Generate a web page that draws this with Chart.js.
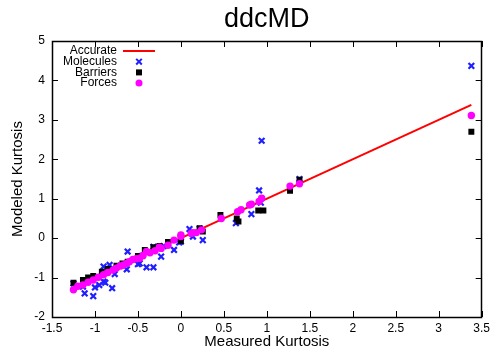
<!DOCTYPE html>
<html>
<head>
<meta charset="utf-8">
<script src="https://cdn.jsdelivr.net/npm/chart.js@4"></script>
<style>
  body { margin: 0; background: #fff; }
  canvas { display: block; }
</style>
</head>
<body>
<canvas id="kurtChart" width="494" height="354"></canvas>
<script>
// Modeled vs measured kurtosis (ddcMD)

const accurate = [[-1.25, -1.25], [3.38, 3.38]];

const molecules = [
    [-1.25, -1.15], [-1.14, -1.23], [-1.12, -1.40], [-1.02, -1.47], [-1.0, -1.25],
    [-0.95, -1.19], [-0.90, -1.10], [-0.88, -1.13], [-0.80, -1.27], [-0.79, -0.79],
    [-0.77, -0.91], [-0.90, -0.72], [-0.83, -0.68], [-0.63, -0.79], [-0.62, -0.34],
    [-0.50, -0.66], [-0.49, -0.54], [-0.48, -0.64], [-0.40, -0.74], [-0.32, -0.74],
    [-0.32, -0.22], [-0.23, -0.47], [-0.08, -0.30], [-0.02, -0.11], [0.0, -0.09],
    [0.10, 0.23], [0.14, 0.04], [0.255, -0.05], [0.64, 0.38], [0.82, 0.61],
    [0.91, 1.21], [0.94, 2.47], [1.38, 1.50], [3.38, 4.37],
    [-1.05, -1.02], [-0.70, -0.70], [-0.45, -0.45], [-0.20, -0.20], [0.22, 0.24], [0.93, 0.90]
];

const barriers = [
    [-1.25, -1.13], [-1.14, -1.06], [-1.08, -1.00], [-1.02, -0.96], [-0.92, -0.85],
    [-0.85, -0.78], [-0.75, -0.70], [-0.68, -0.64], [-0.62, -0.60], [-0.50, -0.45],
    [-0.42, -0.30], [-0.32, -0.23], [-0.25, -0.20], [-0.15, -0.10], [0.0, -0.07],
    [0.217, 0.25], [0.255, 0.17], [0.46, 0.59], [0.65, 0.50], [0.67, 0.42],
    [0.90, 0.70], [0.96, 0.70], [1.27, 1.20], [1.38, 1.48], [3.38, 2.70]
];

const forces = [
    [-1.25, -1.31], [-1.20, -1.22], [-1.14, -1.19], [-1.08, -1.12], [-1.02, -1.06],
    [-0.96, -0.99], [-0.90, -0.93], [-0.85, -0.87], [-0.79, -0.81], [-0.75, -0.76],
    [-0.71, -0.71], [-0.67, -0.68], [-0.63, -0.64], [-0.60, -0.60], [-0.56, -0.54],
    [-0.52, -0.52], [-0.48, -0.51], [-0.44, -0.44], [-0.40, -0.34], [-0.36, -0.37],
    [-0.30, -0.32], [-0.25, -0.23], [-0.23, -0.26], [-0.15, -0.18], [-0.08, -0.05],
    [0.0, 0.04], [0.0, 0.08], [0.12, 0.12], [0.14, 0.14], [0.18, 0.14],
    [0.24, 0.21], [0.47, 0.50], [0.66, 0.67], [0.70, 0.72], [0.80, 0.84],
    [0.82, 0.86], [0.91, 0.93], [0.94, 1.01], [1.27, 1.32], [1.38, 1.38], [3.38, 3.11]
];

const FONT = "'Liberation Sans', Arial, sans-serif";
const toXY = arr => arr.map(p => ({x: p[0], y: p[1]}));

// gnuplot look: frame, inward ticks on all sides, legend top-left, titles
const gnuplotFrame = {
    id: "gnuplotFrame",
    afterDraw(chart) {
        const {ctx, chartArea} = chart;
        const {left, right, top, bottom} = chartArea;
        const xs = chart.scales.x, ys = chart.scales.y;
        const tl = 6;
        ctx.save();
        ctx.strokeStyle = "#000";
        ctx.lineWidth = 1;
        ctx.beginPath();
        xs.ticks.forEach(t => {
            const px = Math.round(xs.getPixelForValue(t.value)) + 0.5;
            ctx.moveTo(px, bottom); ctx.lineTo(px, bottom - tl);
            ctx.moveTo(px, top); ctx.lineTo(px, top + tl);
        });
        ys.ticks.forEach(t => {
            const py = Math.round(ys.getPixelForValue(t.value)) + 0.5;
            ctx.moveTo(left, py); ctx.lineTo(left + tl, py);
            ctx.moveTo(right, py); ctx.lineTo(right - tl, py);
        });
        ctx.stroke();
        ctx.lineWidth = 1.5;
        ctx.strokeRect(Math.round(left) + 0.5, Math.round(top) + 0.5,
            Math.round(right - left) - 1, Math.round(bottom - top));

        // titles
        ctx.fillStyle = "#000";
        ctx.textAlign = "center";
        ctx.textBaseline = "middle";
        ctx.font = "27px " + FONT;
        ctx.fillText("ddcMD", (left + right) / 2, 20);
        ctx.font = "15px " + FONT;
        ctx.fillText("Measured Kurtosis", (left + right) / 2, 342);
        ctx.save();
        ctx.translate(18, (top + bottom) / 2);
        ctx.rotate(-Math.PI / 2);
        ctx.fillText("Modeled Kurtosis", 0, 0);
        ctx.restore();

        // legend
        ctx.font = "12px " + FONT;
        ctx.textAlign = "right";
        const rows = chart.data.datasets;
        rows.forEach((ds, i) => {
            const y = 51 + i * 10.7;
            ctx.fillStyle = "#000";
            ctx.fillText(ds.label, 117, y);
            const mx = 139;
            if (i === 0) {
                ctx.strokeStyle = ds.borderColor;
                ctx.lineWidth = 2;
                ctx.beginPath();
                ctx.moveTo(123, y); ctx.lineTo(155, y);
                ctx.stroke();
            } else if (ds.pointStyle === "crossRot") {
                ctx.strokeStyle = ds.borderColor;
                ctx.lineWidth = 2;
                ctx.beginPath();
                ctx.moveTo(mx - 2.8, y - 2.8); ctx.lineTo(mx + 2.8, y + 2.8);
                ctx.moveTo(mx + 2.8, y - 2.8); ctx.lineTo(mx - 2.8, y + 2.8);
                ctx.stroke();
            } else if (ds.pointStyle === "rect") {
                ctx.fillStyle = ds.backgroundColor;
                ctx.fillRect(mx - 3, y - 3, 6, 6);
            } else {
                ctx.fillStyle = ds.backgroundColor;
                ctx.beginPath();
                ctx.arc(mx, y, 3.5, 0, Math.PI * 2);
                ctx.fill();
            }
        });
        ctx.restore();
    }
};

new Chart("kurtChart", {
    type: "scatter",
    data: {
        datasets: [{
            label: "Accurate",
            type: "line",
            data: toXY(accurate),
            borderColor: "#ff0000",
            borderWidth: 2,
            pointRadius: 0,
            order: 3
        }, {
            label: "Molecules",
            data: toXY(molecules),
            pointStyle: "crossRot",
            pointRadius: 4,
            borderWidth: 2.2,
            borderColor: "#1f1fff",
            backgroundColor: "#1f1fff",
            order: 2
        }, {
            label: "Barriers",
            data: toXY(barriers),
            pointStyle: "rect",
            pointRadius: 4.2,
            borderWidth: 0,
            backgroundColor: "#000000",
            borderColor: "#000000",
            order: 1
        }, {
            label: "Forces",
            data: toXY(forces),
            pointStyle: "circle",
            pointRadius: 3.7,
            borderWidth: 0,
            backgroundColor: "#ff00ff",
            borderColor: "#ff00ff",
            order: 0
        }]
    },
    options: {
        responsive: false,
        animation: false,
        layout: {
            padding: {left: 0, right: 11, top: 41, bottom: 0}
        },
        scales: {
            x: {
                type: "linear",
                min: -1.5,
                max: 3.5,
                grid: {display: false, drawTicks: false},
                border: {display: false},
                afterFit: s => { s.height = 37; },
                ticks: {
                    stepSize: 0.5,
                    padding: 4,
                    color: "#000",
                    font: {family: FONT, size: 12},
                    maxRotation: 0,
                    callback: v => String(Math.round(v * 10) / 10)
                }
            },
            y: {
                min: -2,
                max: 5,
                grid: {display: false, drawTicks: false},
                border: {display: false},
                afterFit: s => { s.width = 52; },
                ticks: {
                    stepSize: 1,
                    padding: 7,
                    color: "#000",
                    font: {family: FONT, size: 12},
                    callback: v => String(v)
                }
            }
        },
        plugins: {
            legend: {display: false},
            tooltip: {enabled: false},
            title: {display: false}
        }
    },
    plugins: [gnuplotFrame]
});
</script>
</body>
</html>
